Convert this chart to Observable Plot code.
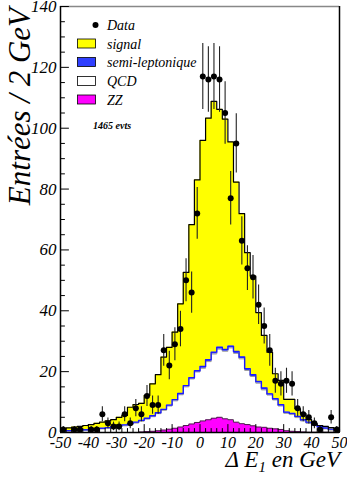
<!DOCTYPE html>
<html><head><meta charset="utf-8">
<script src="https://cdn.jsdelivr.net/npm/d3@7"></script>
<script src="https://cdn.jsdelivr.net/npm/@observablehq/plot@0.6"></script>
<style>html,body{margin:0;padding:0;background:#fff}#chart svg{display:block}</style>
</head><body><div id="chart"></div>
<script>
// Bin low edges (2 GeV bins from -50 to 50)
const binLow = [-50,-48,-46,-44,-42,-40,-38,-36,-34,-32,-30,-28,-26,-24,-22,-20,-18,-16,-14,-12,-10,-8,-6,-4,-2,0,2,4,6,8,10,12,14,16,18,20,22,24,26,28,30,32,34,36,38,40,42,44,46,48];
// Data counts per bin
const dataCounts = [1,0,1,1,0,1,1,6,3,2, 2,6,3,8,6,12,9,9,27,22, 29,34,50,46,72,117,116,117,116,105, 77,95,63,54,51,42,35,27,17,16, 17,16,8,6,5,3,1,0,5,1];
// Stacked MC components (events / bin)
const zz = [0,0,0,0,0,0,0,0,0,0, 0,0,0,0,0.2,0.3,0.4,0.6,0.8,1.1, 1.4,1.8,2.3,2.8,3.3,3.8,4.2,4.7,5.0,4.5, 4.2,3.4,2.9,2.6,2.2,1.8,1.7,1.4,1.2,1.0, 0.6,0.4,0.3,0.2,0.1,0.1,0.1,0.1,0.1,0.1];
const qcd = [0.3,0.4,0.5,0.6,0.7,0.8,1.0,1.2,1.4,1.7, 1.9,2.2,2.6,3.1,3.5,4.1,4.8,5.6,6.5,7.6, 9.0,10.6,12.7,14.8,16.6,17.3,19.1,21.1,22.4,22.2, 23.6,22.6,21.3,17.8,16.2,14.4,12.3,10.9,9.5,7.7, 5.7,5.5,4.6,3.6,2.9,2.2,1.5,1.1,0.7,0.4];
const semilep = [0.2,0.2,0.2,0.2,0.2,0.2,0.2,0.2,0.2,0.2, 0.3,0.3,0.3,0.3,0.3,0.3,0.3,0.3,0.3,0.3, 0.4,0.4,0.4,0.4,0.4,0.6,0.6,0.6,0.6,0.6, 0.6,0.6,0.6,0.6,0.6,0.6,0.6,0.4,0.4,0.4, 0.4,0.4,0.4,0.4,0.4,0.3,0.3,0.3,0.3,0.3];
const signal = [0.7,0.9,1.1,1.2,1.4,1.6,1.8,2.0,2.2,2.3, 2.8,3.1,5.4,5.8,5.6,7.5,10.5,12.5,17.2,19.0, 22.2,29.5,37.2,50.3,62.7,74.3,79.4,82.4,78.2,75.7, 67.1,55.7,47.1,38.1,32.4,22.6,17.3,13.7,8.2,8.0, 4.2,4.6,2.5,2.0,0.8,0.3,0.4,0.5,0.5,0.5];
const compNames = ["ZZ","QCD","semi-leptonique","signal"];
const compColors = ["#ff00ff","#ffffff","#2f3fff","#ffff00"];
const yTickLabels = [0,20,40,60,80,100,120,140];
const yMinorTicks = [5,10,15,25,30,35,45,50,55,65,70,75,85,90,95,105,110,115,125,130,135];
const xTickLabels = [-50,-40,-30,-20,-10,0,10,20,30,40,50];
const legendEvents = "1465 evts";

// Build tables
const comps = [zz, qcd, semilep, signal];
const stackRows = [];
compNames.forEach((name, k) => {
  binLow.forEach((lo, i) => stackRows.push({x: lo, v: comps[k][i], comp: name}));
  stackRows.push({x: 50, v: comps[k][binLow.length - 1], comp: name});
});
const cum = (arrs) => binLow.map((_, i) => arrs.reduce((s, a) => s + a[i], 0));
const stepPts = (vals) => binLow.map((lo, i) => ({x: lo, y: vals[i]})).concat([{x: 50, y: vals[vals.length - 1]}]);
const topTotal = stepPts(cum([zz, qcd, semilep, signal]));
const topBkg = stepPts(cum([zz, qcd, semilep]));
const topQcd = stepPts(cum([zz, qcd]));
const topZZ = stepPts(zz);
const pts = binLow.map((lo, i) => ({x: lo + 1, n: dataCounts[i]})).filter(d => d.n > 0);

const tickShape = {draw(ctx, l) { ctx.moveTo(0, 0); ctx.lineTo(0, -l); }};
const xMinor = binLow.filter(v => v % 10 !== 0);
const ff = "'Liberation Serif', 'Times New Roman', serif";

const chart = Plot.plot({
  width: 347, height: 477,
  marginLeft: 60, marginRight: 8, marginTop: 6, marginBottom: 45,
  x: {domain: [-50, 50]},
  y: {domain: [0, 140]},
  color: {domain: compNames, range: compColors},
  style: {fontFamily: ff, fontStyle: "italic", fontSize: "17px", background: "#fff", color: "#000"},
  marks: [
    Plot.areaY(stackRows, {x: "x", y: "v", z: "comp", fill: "comp", curve: "step-after"}),
    Plot.lineY(topZZ, {x: "x", y: "y", curve: "step-after", stroke: "#222", strokeWidth: 0.8}),
    Plot.lineY(topQcd, {x: "x", y: "y", curve: "step-after", stroke: "#999", strokeWidth: 1}),
    Plot.lineY(topBkg, {x: "x", y: "y", curve: "step-after", stroke: "#1a1aff", strokeWidth: 1.4}),
    Plot.lineY(topTotal, {x: "x", y: "y", curve: "step-after", stroke: "#000", strokeWidth: 1.2}),
    Plot.ruleX(pts, {x: "x", y1: d => d.n - Math.sqrt(d.n), y2: d => d.n + Math.sqrt(d.n), stroke: "#222", strokeWidth: 1.1}),
    Plot.dot(pts, {x: "x", y: "n", r: 3, fill: "#000"}),
    Plot.ruleY([140], {stroke: "#888", strokeWidth: 1.5}),
    Plot.ruleX([50], {stroke: "#000", strokeWidth: 1.5}),
    Plot.ruleX([-50], {stroke: "#000", strokeWidth: 1.5}),
    Plot.ruleY([0], {stroke: "#000", strokeWidth: 1.5}),
    Plot.vector(yTickLabels, {y: d => d, frameAnchor: "left", length: 8, rotate: 90, anchor: "start", shape: tickShape, stroke: "#000", strokeWidth: 1}),
    Plot.vector(yMinorTicks, {y: d => d, frameAnchor: "left", length: 4, rotate: 90, anchor: "start", shape: tickShape, stroke: "#000", strokeWidth: 1}),
    Plot.vector(xTickLabels, {x: d => d, frameAnchor: "bottom", length: 8, rotate: 0, anchor: "start", shape: tickShape, stroke: "#000", strokeWidth: 1}),
    Plot.vector(xMinor, {x: d => d, frameAnchor: "bottom", length: 4, rotate: 0, anchor: "start", shape: tickShape, stroke: "#000", strokeWidth: 1}),
    Plot.axisY(yTickLabels, {tickSize: 0, tickPadding: 4, label: null, tickFormat: d => String(d)}),
    Plot.axisX(xTickLabels, {tickSize: 0, tickPadding: 4, label: null, fontSize: 16, tickFormat: d => String(d)})
  ]
});
document.getElementById("chart").appendChild(chart);

const svg = d3.select(chart);
svg.append("text")
  .attr("transform", "translate(30,8) rotate(-90)")
  .attr("text-anchor", "end")
  .style("font-family", ff).style("font-style", "italic").style("font-size", "31px")
  .text("Entrées / 2 GeV");
const xt = svg.append("text")
  .attr("x", 340).attr("y", 467).attr("text-anchor", "end")
  .style("font-family", ff).style("font-style", "italic").style("font-size", "23px");
xt.append("tspan").text("Δ E");
xt.append("tspan").attr("dy", 5).style("font-size", "15px").text("1");
xt.append("tspan").attr("dy", -5).text(" en GeV");

// Legend
const lg = svg.append("g").attr("text-anchor", "start").style("font-family", ff).style("font-style", "italic").style("font-size", "14px");
lg.append("circle").attr("cx", 95.5).attr("cy", 25).attr("r", 3).attr("fill", "#000");
lg.append("text").attr("x", 107).attr("y", 30).text("Data");
const items = [["signal", "#ffff00", 43.5], ["semi-leptonique", "#2f3fff", 62], ["QCD", "#ffffff", 81], ["ZZ", "#ff00ff", 99.5]];
items.forEach(([name, col, cy]) => {
  lg.append("rect").attr("x", 77.5).attr("y", cy - 4.5).attr("width", 18).attr("height", 9).attr("fill", col).attr("stroke", "#000").attr("stroke-width", 0.8);
  lg.append("text").attr("x", 107).attr("y", cy + 5).text(name);
});
lg.append("text").attr("x", 93).attr("y", 129).style("font-size", "10px").style("font-weight", "bold").text(legendEvents);
</script>
</body></html>
